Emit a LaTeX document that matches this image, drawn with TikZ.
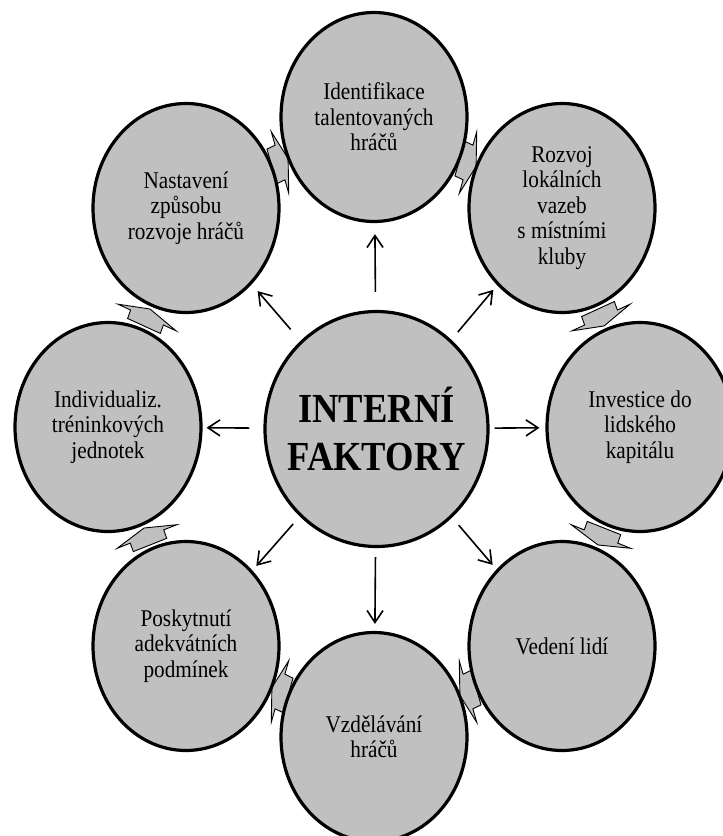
\documentclass[tikz,border=0pt]{standalone}
\usepackage{fontspec}
\setmainfont{Liberation Serif}[FakeStretch=0.885]
\usetikzlibrary{shapes.geometric,arrows.meta,calc}
\pgfdeclarelayer{bg}
\pgfsetlayers{bg,main}
\definecolor{circgray}{RGB}{192,192,192}
\tikzset{
  sat/.style={ellipse, draw=black, line width=3.2pt, fill=circgray,
    minimum width=186pt, minimum height=209pt, inner sep=0pt, align=center,
    font=\fontsize{24}{25.5}\selectfont, text=black},
  hub/.style={ellipse, draw=black, line width=3.2pt, fill=circgray,
    minimum width=223pt, minimum height=235pt, inner sep=0pt, inner xsep=-40pt,
    align=center, font=\bfseries\fontsize{41.3}{48.3}\selectfont, text=black},
  ray/.style={line width=1.6pt, -{Straight Barb[length=12pt,width=16pt]}},
  flow/.style={draw=black, line width=0.9pt, line join=miter, fill=circgray},
}
% #1 from node, #2 to node, #3 angle of the arrow's cross axis against its direction
\newcommand\flowarrow[3]{%
  \coordinate (fm) at ($(#1.center)!0.5!(#2.center)$);
  \coordinate (ft) at ($(fm)!-9pt!(#2.center)$);
  \coordinate (fp) at ($(fm)!9pt!(#2.center)$);
  \draw[flow]
    ($(ft)!18pt!#3:(#2.center)$) -- ($(fm)!18pt!#3:(#2.center)$) --
    ($(fm)!32pt!#3:(#2.center)$) -- (fp) --
    ($(fm)!-32pt!#3:(#2.center)$) -- ($(fm)!-18pt!#3:(#2.center)$) --
    ($(ft)!-18pt!#3:(#2.center)$) -- cycle;
}
\begin{document}
\begin{tikzpicture}[x=1pt,y=-1pt]
\useasboundingbox (0,0) rectangle (723,836);

\node[hub] (c) at (376.5,429) {INTERNÍ\\FAKTORY};
\node[sat] (n1) at (374,117) {Identifikace\\talentovaných\\hráčů};
\node[sat] (n2) at (562,208) {Rozvoj\\lokálních\\vazeb\\s místními\\kluby};
\node[sat] (n3) at (640,427) {Investice do\\lidského\\kapitálu};
\node[sat] (n4) at (562,646) {Vedení lidí};
\node[sat] (n5) at (374,737) {Vzdělávání\\hráčů};
\node[sat] (n6) at (186,646) {Poskytnutí\\adekvátních\\podmínek};
\node[sat] (n7) at (108,427) {Individualiz.\\tréninkových\\jednotek};
\node[sat] (n8) at (186,208) {Nastavení\\způsobu\\rozvoje hráčů};

\begin{pgfonlayer}{bg}
\flowarrow{n8}{n1}{80}
\flowarrow{n1}{n2}{100}
\flowarrow{n2}{n3}{95}
\flowarrow{n3}{n4}{88}
\flowarrow{n4}{n5}{80}
\flowarrow{n5}{n6}{100}
\flowarrow{n6}{n7}{92}
\flowarrow{n7}{n8}{85}
\end{pgfonlayer}

\draw[ray, shorten <=18pt, shorten >=11pt] (c) -- (n1);
\draw[ray, shorten <=10pt, shorten >=6pt] (c) -- (n2);
\draw[ray, shorten <=5pt, shorten >=6pt] (c) -- (n3);
\draw[ray, shorten <=10pt, shorten >=6pt] (c) -- (n4);
\draw[ray, shorten <=9pt, shorten >=7pt] (c) -- (n5);
\draw[ray, shorten <=10pt, shorten >=6pt] (c) -- (n6);
\draw[ray, shorten <=14pt, shorten >=4pt] (c) -- (n7);
\draw[ray, shorten <=15pt, shorten >=9pt] (c) -- (n8);
\end{tikzpicture}
\end{document}
